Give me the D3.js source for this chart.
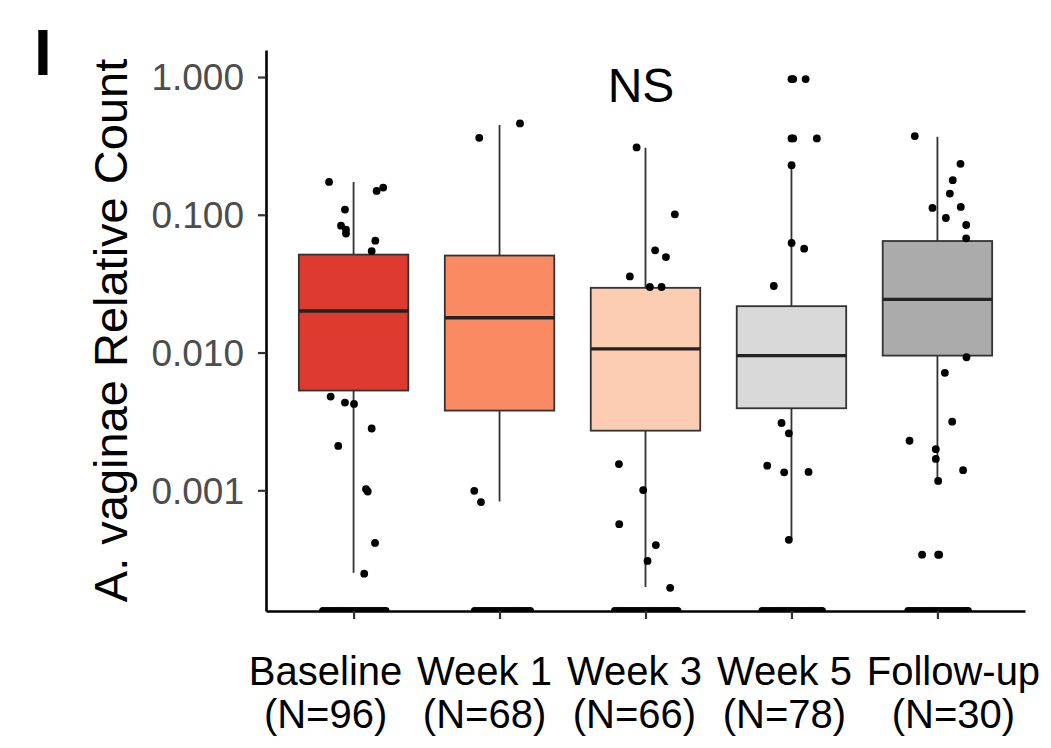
<!DOCTYPE html>
<html>
<head>
<meta charset="utf-8">
<script src="https://cdn.jsdelivr.net/npm/d3@7"></script>
<style>
  body { margin: 0; background: #fff; }
  svg { font-family: Arial, "Liberation Sans", Helvetica, sans-serif; }
</style>
</head>
<body>
<svg width="1051" height="748"></svg>
<script>
// categories and labels
var groups = ['Baseline', 'Week 1', 'Week 3', 'Week 5', 'Follow-up'];
var counts = ['(N=96)', '(N=68)', '(N=66)', '(N=78)', '(N=30)'];
var fills = ['#dd3b2f', '#fa8a61', '#fdcdb3', '#d9d9d9', '#ababab'];

// box stats
var whiskerLo = [0.000252, 0.00083, 0.000199, 0.000437, 0.00117];
var q1        = [0.0053, 0.00379, 0.00271, 0.00394, 0.0095];
var median    = [0.0200, 0.0179, 0.01063, 0.0095, 0.0243];
var q3        = [0.0514, 0.0506, 0.0295, 0.0217, 0.0645];
var whiskerHi = [0.173, 0.448, 0.306, 0.229, 0.368];

// jittered points: [jitter (in category steps), value]
var ptsBaseline = [[-0.168,0.1732],[-0.059,0.1091],[-0.086,0.0834],[-0.052,0.078],[-0.052,0.073],
  [0.158,0.149],[0.203,0.1577],[0.149,0.0649],[0.124,0.0545],[-0.157,0.00479],[-0.059,0.00433],
  [0.003,0.00424],[0.124,0.00281],[-0.105,0.0021],[0.085,0.00102],[0.097,0.00098],
  [0.147,0.000415],[0.073,0.000248]];
var ptsWeek1 = [[-0.139,0.3618],[0.14,0.4605],[-0.173,0.000992],[-0.127,0.000821]];
var ptsWeek3 = [[-0.061,0.3082],[0.201,0.1008],[0.066,0.0552],[0.14,0.0493],[-0.107,0.0357],
  [0.03,0.0299],[0.11,0.0299],[-0.182,0.00155],[-0.016,0.001003],[-0.18,0.000568],
  [0.071,0.0004],[0.014,0.000307],[0.169,0.000196]];
var ptsWeek5 = [[0.0,0.967],[0.012,0.967],[0.097,0.967],[0.0,0.3582],[0.012,0.3582],[0.174,0.3582],
  [0.001,0.2291],[0.001,0.0624],[0.087,0.0568],[-0.121,0.0304],[-0.068,0.00308],[-0.018,0.00259],
  [-0.166,0.00151],[-0.05,0.00135],[0.117,0.00136],[-0.018,0.000437]];
var ptsFollow = [[-0.155,0.3724],[0.158,0.2342],[0.105,0.1782],[0.085,0.1426],[-0.034,0.1121],
  [0.16,0.114],[0.058,0.0948],[0.197,0.0843],[0.197,0.0675],[0.199,0.00924],[0.051,0.00712],
  [0.101,0.00315],[-0.191,0.00229],[-0.011,0.00199],[-0.011,0.00169],[0.176,0.0014],
  [0.005,0.00117],[-0.105,0.000341],[0.005,0.000341],[0.012,0.000341]];
// zero counts sit on the panel floor (clipped): jitter only
var zerosBaseline = [-0.21,-0.19,-0.17,-0.15,-0.13,-0.11,-0.09,-0.07,-0.05,-0.03,-0.01,0.01,0.03,
  0.05,0.07,0.09,0.11,0.13,0.15,0.17,0.19,0.21,0.22];
var zerosWeek1 = [-0.17,-0.15,-0.13,-0.11,-0.09,-0.07,-0.05,-0.03,-0.01,0.01,0.03,0.05,0.07,0.09,
  0.11,0.13,0.15,0.17,0.19,0.21];
var zerosWeek3 = [-0.21,-0.19,-0.17,-0.15,-0.13,-0.11,-0.09,-0.07,-0.05,-0.03,-0.01,0.01,0.03,
  0.05,0.07,0.09,0.11,0.13,0.15,0.17,0.19,0.21,0.22];
var zerosWeek5 = [-0.2,-0.18,-0.16,-0.14,-0.12,-0.1,-0.08,-0.06,-0.04,-0.02,0.0,0.02,0.04,0.06,
  0.08,0.1,0.12,0.14,0.16,0.18,0.2,0.21];
var zerosFollow = [-0.2,-0.18,-0.16,-0.14,-0.12,-0.1,-0.08,-0.06,-0.04,-0.02,0.0,0.02,0.04,0.06,
  0.08,0.1,0.12,0.14,0.16,0.18,0.2,0.21];

var points = [ptsBaseline, ptsWeek1, ptsWeek3, ptsWeek5, ptsFollow];
var zeros = [zerosBaseline, zerosWeek1, zerosWeek3, zerosWeek5, zerosFollow];
var yTicks = [0.001, 0.01, 0.1, 1];

var svg = d3.select('svg');
var pLeft = 266, pRight = 1025, pTop = 50, pBottom = 611;

var x = d3.scalePoint().domain(groups).range([pLeft, pRight]).padding(0.6);
var step = x.step();
var y = d3.scaleLog().domain([1.33e-4, 1.571]).range([pBottom, pTop]);
function yv(v) { return v > 0 ? y(v) : pBottom; }
var bw = step * 0.75;

// panel clip, like ggplot
svg.append('defs').append('clipPath').attr('id', 'panel')
  .append('rect').attr('x', pLeft).attr('y', pTop)
  .attr('width', pRight - pLeft).attr('height', pBottom - pTop);
var panel = svg.append('g').attr('clip-path', 'url(#panel)');

var boxes = groups.map((g, i) => ({g: g, i: i}));

// whiskers
panel.append('g').selectAll('line')
  .data(boxes).enter().append('line')
  .attr('x1', d => x(d.g)).attr('x2', d => x(d.g))
  .attr('y1', d => y(whiskerLo[d.i])).attr('y2', d => y(whiskerHi[d.i]))
  .attr('stroke', '#333').attr('stroke-width', 1.8);

// boxes
panel.append('g').selectAll('rect')
  .data(boxes).enter().append('rect')
  .attr('x', d => x(d.g) - bw/2).attr('width', bw)
  .attr('y', d => y(q3[d.i]))
  .attr('height', d => y(q1[d.i]) - y(q3[d.i]))
  .attr('fill', d => fills[d.i])
  .attr('stroke', '#333').attr('stroke-width', 1.8);

// medians
panel.append('g').selectAll('line')
  .data(boxes).enter().append('line')
  .attr('x1', d => x(d.g) - bw/2).attr('x2', d => x(d.g) + bw/2)
  .attr('y1', d => y(median[d.i])).attr('y2', d => y(median[d.i]))
  .attr('stroke', '#222').attr('stroke-width', 3.4);

// points
var allPts = [];
points.forEach((arr, i) => arr.forEach(p => allPts.push({g: groups[i], j: p[0], v: p[1]})));
zeros.forEach((arr, i) => arr.forEach(j => allPts.push({g: groups[i], j: j, v: 0})));
panel.append('g').selectAll('circle')
  .data(allPts).enter().append('circle')
  .attr('cx', d => x(d.g) + d.j * step)
  .attr('cy', d => yv(d.v))
  .attr('r', 3.9)
  .attr('fill', '#000');

// axes
var yAxis = d3.axisLeft(y).tickValues(yTicks).tickFormat(d3.format('.3f'))
  .tickSize(8).tickSizeOuter(0).tickPadding(14);
var gy = svg.append('g').attr('transform', 'translate(' + pLeft + ',0)').call(yAxis);
gy.select('.domain').attr('stroke', '#000').attr('stroke-width', 2.6);
gy.selectAll('.tick line').attr('stroke', '#333').attr('stroke-width', 2.2);
gy.selectAll('.tick text').attr('fill', '#4d4d4d').style('font-size', '37px')
  .attr('dy', '0.35em');

var xAxis = d3.axisBottom(x).tickSize(8).tickSizeOuter(0).tickFormat('');
var gx = svg.append('g').attr('transform', 'translate(0,' + pBottom + ')').call(xAxis);
gx.select('.domain').attr('stroke', '#000').attr('stroke-width', 2.6);
gx.selectAll('.tick line').attr('stroke', '#333').attr('stroke-width', 2.2);

// category labels
var labelShift = [-28, -15, -11, -7, 16];
var lab = svg.append('g').selectAll('text')
  .data(boxes).enter().append('text')
  .attr('text-anchor', 'middle')
  .style('font-size', '40px')
  .attr('fill', '#000');
lab.append('tspan').attr('x', d => x(d.g) + labelShift[d.i]).attr('y', 685).text(d => d.g);
lab.append('tspan').attr('x', d => x(d.g) + labelShift[d.i]).attr('y', 728).text(d => counts[d.i]);

// y title
svg.append('text')
  .attr('transform', 'translate(127,' + (pTop + pBottom) / 2 + ') rotate(-90)')
  .attr('text-anchor', 'middle')
  .style('font-size', '47px')
  .text('A. vaginae Relative Count');

// NS annotation
svg.append('text')
  .attr('x', 641).attr('y', 102)
  .attr('text-anchor', 'middle')
  .style('font-size', '48px')
  .text('NS');

// panel letter
svg.append('text')
  .attr('x', 34).attr('y', 75)
  .style('font-size', '64px').style('font-weight', 'bold')
  .text('I');
</script>
</body>
</html>
